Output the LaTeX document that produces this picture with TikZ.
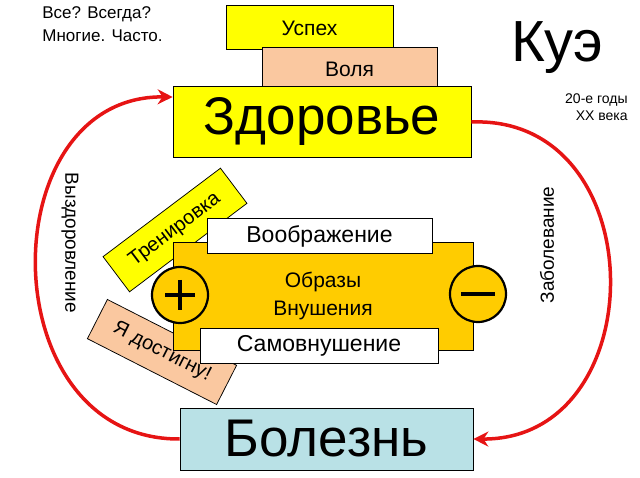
\documentclass[tikz,border=0pt]{standalone}
\usepackage{fontspec}
\setmainfont{Liberation Sans}
\usetikzlibrary{arrows.meta}
\definecolor{zhelt}{RGB}{255,255,0}
\definecolor{persik}{RGB}{250,200,160}
\definecolor{zoloto}{RGB}{255,204,0}
\definecolor{goluboy}{RGB}{185,225,230}
\definecolor{krasn}{RGB}{230,20,20}
\tikzset{every picture/.style={line width=0.75pt}}
\tikzset{
  plashka/.style={draw=black, anchor=center, inner sep=0pt},
  beliy/.style={plashka, fill=white, minimum height=35, font=\fontsize{23}{26}\selectfont},
  znak/.style={draw=black, line width=2.2pt, fill=zoloto, circle, minimum size=56, inner sep=0pt},
  strelka/.style={draw=krasn, line width=3.5pt, -{Stealth[length=15pt,width=15pt]}}
}
\begin{document}
\begin{tikzpicture}[x=1pt,y=1pt,yscale=-1]
  \useasboundingbox (0,0) rectangle (640,478);
  % верх
  \node (vse) [align=left, anchor=north west, inner sep=0pt, font=\fontsize{17}{23}\selectfont] at (42,6) {Все? Всегда?\\Многие. Часто.};
  \node (uspeh) [plashka, fill=zhelt, minimum width=167, minimum height=44] at (309.5,27) {};
  \node at (309.5,28) {\fontsize{21}{24}\selectfont Успех};
  \node (volya) [plashka, fill=persik, minimum width=175, minimum height=44, font=\fontsize{21}{24}\selectfont] at (349.5,69) {Воля};
  \node (zdorove) [plashka, fill=zhelt, minimum width=298, minimum height=71, font=\fontsize{53}{60}\selectfont] at (322,122) {Здоровье};
  \node (kue) [font=\fontsize{58}{64}\selectfont] at (557,48) {Куэ};
  \node (gody) [align=right, anchor=north east, inner sep=0pt, font=\fontsize{14}{17}\selectfont] at (628,93) {20-е годы\\XX века};
  % наклонные
  \node (trenir) [plashka, fill=zhelt, minimum width=147, minimum height=44, rotate=37, font=\fontsize{20}{24}\selectfont] at (175,230) {Тренировка};
  \node (dostig) [plashka, fill=persik, minimum width=145, minimum height=44, rotate=-27, font=\fontsize{20}{24}\selectfont] at (162,352) {Я достигну!};
  % центр
  \node (obrazy) [plashka, fill=zoloto, minimum width=300, minimum height=108, align=center, font=\fontsize{21}{28}\selectfont] at (323,296) {Образы\\Внушения};
  \node (voobr) [beliy, minimum width=225] at (319.5,236) {Воображение};
  \node (samov) [beliy, minimum width=238] at (319,346) {Самовнушение};
  \node (plus) [znak] at (180,295) {};
  \draw [line width=3.5pt] (plus.center) ++(-15,0) -- ++(30,0) (plus.center) ++(0,-15) -- ++(0,30);
  \node (minus) [znak] at (478,294) {};
  \draw [line width=3.5pt] (minus.center) ++(-17,0) -- ++(34,0);
  % низ
  \node (bolezn) [plashka, fill=goluboy, minimum width=293, minimum height=62, font=\fontsize{53}{60}\selectfont] at (326.5,439) {Болезнь};
  % стрелки
  \draw [strelka] (bolezn.west) .. controls (-10,440) and (-10,95) .. (zdorove.west |- 0,97);
  \draw [strelka] (zdorove.east) .. controls (655,115) and (655,440) .. (bolezn.east);
  \node (vyzd) [rotate=-90, font=\fontsize{19}{22}\selectfont] at (70,243) {Выздоровление};
  \node (zabol) [rotate=90, font=\fontsize{19}{22}\selectfont] at (547,245) {Заболевание};
\end{tikzpicture}
\end{document}
